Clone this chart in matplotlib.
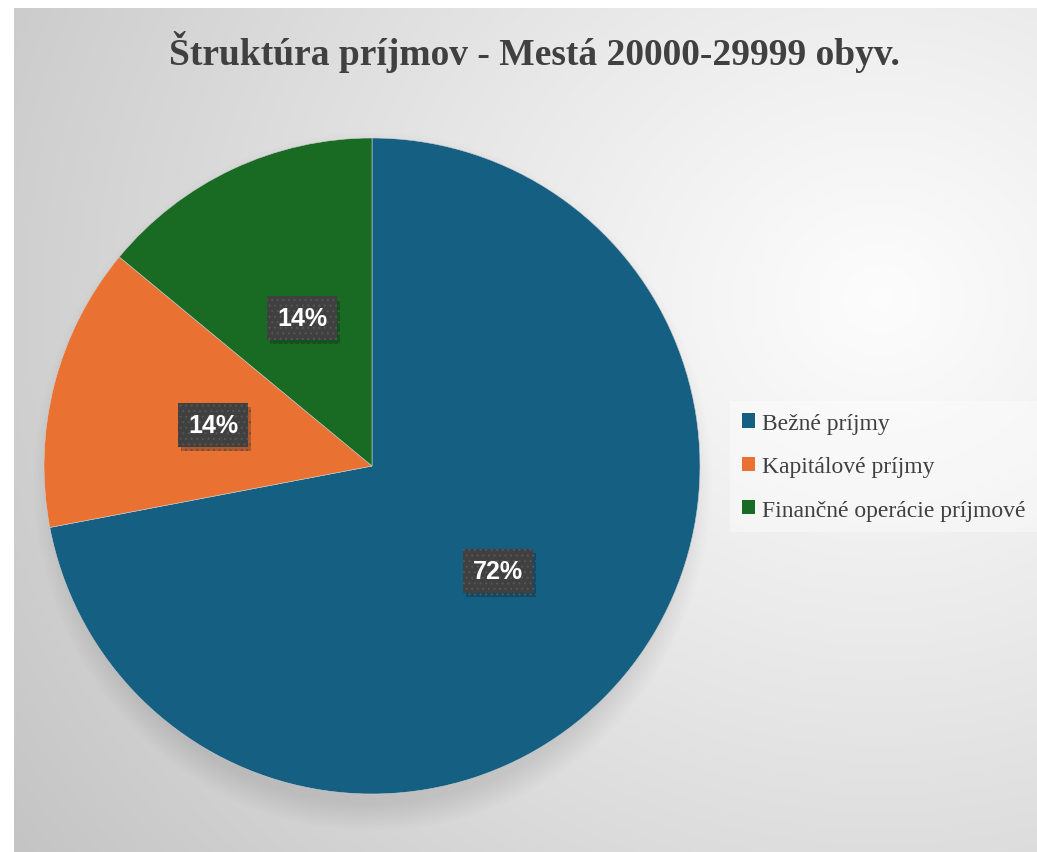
import matplotlib
matplotlib.use("Agg")
import matplotlib.pyplot as plt
import matplotlib.patheffects as pe
from matplotlib.patches import Patch
import numpy as np

# data
categories = ["Bežné príjmy", "Kapitálové príjmy", "Finančné operácie príjmové"]
shares = [72, 14, 14]
colors = ["#156082", "#E97132", "#196B24"]
title = "Štruktúra príjmov - Mestá 20000-29999 obyv."

W, H = 1037, 853
fig = plt.figure(figsize=(W / 100, H / 100), dpi=100)
fig.patch.set_facecolor("white")

# background with radial gradient and soft pie shadow
bx0, by1 = 14, 9
bg = fig.add_axes([bx0 / W, 0, 1 - bx0 / W, 1 - by1 / H], zorder=0)
yy, xx = np.mgrid[by1:H, bx0:W]
d = np.hypot((xx - 880) * 0.9, yy - 300) / 950.0
lum = 0.99 - 0.22 * np.clip(d, 0, 1) ** 1.1
sd = np.hypot(xx - 372, (yy - 482) * 0.97)
shadow = np.clip((340 - sd) / 28.0, 0, 1)
lum = lum - 0.09 * shadow
bg.imshow(np.dstack([lum] * 3), aspect="auto", interpolation="bilinear")
bg.axis("off")

# pie
cx, cy, r = 372, 467, 328
ax = fig.add_axes([(cx - r) / W, (H - cy - r) / H, 2 * r / W, 2 * r / H], zorder=2)
wedges, _, autotexts = ax.pie(shares, colors=colors, startangle=90, counterclock=False,
                              autopct="%.0f%%", pctdistance=0.5,
                              wedgeprops=dict(linewidth=0.4, edgecolor="#cfcfcf"))
ax.set_xlim(-1, 1)
ax.set_ylim(-1, 1)
plt.rcParams["hatch.linewidth"] = 0.8
for t in autotexts:
    t.set_color("white")
    t.set_fontsize(18)
    t.set_fontweight("bold")
    t.set_family("Liberation Sans")
    t.set_bbox(dict(boxstyle="square,pad=0.4", fc="#404040", ec="#555555", lw=0, hatch="..."))
    t.get_bbox_patch().set_path_effects([pe.withSimplePatchShadow(offset=(2, -3), shadow_rgbFace="black", alpha=0.22), pe.Normal()])

fig.text(0.515, 1 - 65 / H, title, ha="center", va="baseline", fontsize=27,
         fontweight="bold", family="Liberation Serif", color="#404040")

handles = [Patch(facecolor=c, edgecolor="none") for c in colors]
leg = fig.legend(handles, categories, loc="upper left", bbox_to_anchor=(730 / W, 1 - 402 / H),
                 frameon=True, fancybox=False, prop=dict(family="Liberation Serif", size=17),
                 handlelength=0.55, handleheight=0.55, handletextpad=0.3, labelspacing=0.95,
                 borderpad=0.5, borderaxespad=0)
leg.get_frame().set_facecolor("white")
leg.get_frame().set_alpha(0.4)
leg.get_frame().set_linewidth(0)
for txt in leg.get_texts():
    txt.set_color("#404040")

fig.savefig("out.png", dpi=100)
